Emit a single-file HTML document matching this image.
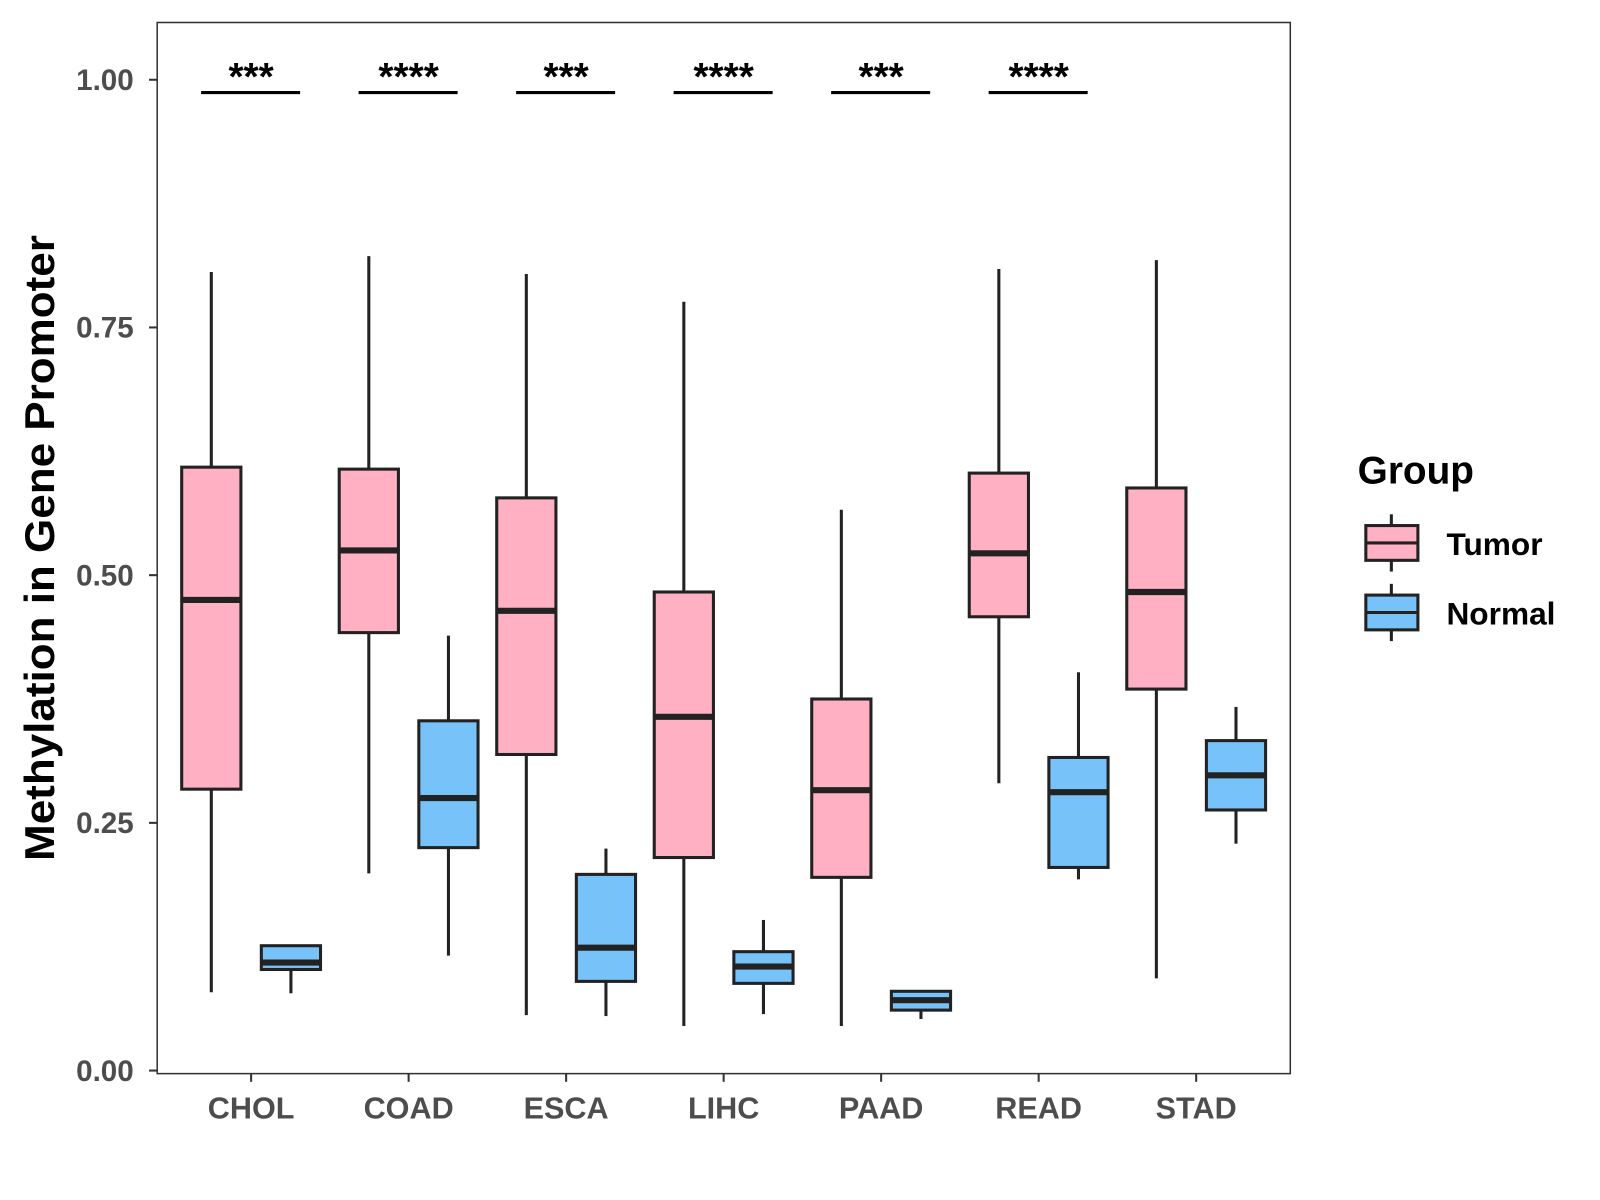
<!DOCTYPE html>
<html><head><meta charset="utf-8"><style>body{margin:0;background:#fff}svg{display:block}text{font-family:"Liberation Sans",Arial,sans-serif;font-weight:bold}</style></head>
<body>
<svg id="chart" width="1600" height="1200" viewBox="0 0 1600 1200" xmlns="http://www.w3.org/2000/svg">
<g transform="scale(1.0208,1.0225)">
<rect x="154" y="22" width="1110" height="1028" fill="#fff" stroke="#333" stroke-width="1.5"/>
<g id="yaxis"></g>
<g id="xaxis"></g>
<g id="boxes"></g>
<g id="sig"></g>
<text transform="translate(53,536) rotate(-90)" text-anchor="middle" font-size="41" fill="#000" textLength="612" lengthAdjust="spacingAndGlyphs">Methylation in Gene Promoter</text>
<g>
<text x="1330" y="473" font-size="38" fill="#000">Group</text>
<g>
<line x1="1363" y1="503" x2="1363" y2="559" stroke="#222" stroke-width="3"/>
<rect x="1338" y="514" width="51" height="34" fill="#FFB0C2" stroke="#222" stroke-width="3"/>
<line x1="1338" y1="531" x2="1389" y2="531" stroke="#222" stroke-width="3"/>
<text x="1417" y="543" font-size="31" fill="#000">Tumor</text></g>
<g>
<line x1="1363" y1="571" x2="1363" y2="627" stroke="#222" stroke-width="3"/>
<rect x="1338" y="582" width="51" height="34" fill="#77C2F8" stroke="#222" stroke-width="3"/>
<line x1="1338" y1="599" x2="1389" y2="599" stroke="#222" stroke-width="3"/>
<text x="1417" y="611" font-size="31" fill="#000">Normal</text></g>
</g>
</g>
</svg>
<script>
const categories=["CHOL","COAD","ESCA","LIHC","PAAD","READ","STAD"];
// [low, q1, median, q3, high]
const tumorStats=[[0.079,0.284,0.475,0.609,0.806],[0.199,0.442,0.525,0.607,0.822],[0.056,0.319,0.464,0.578,0.804],[0.045,0.215,0.357,0.483,0.776],[0.045,0.195,0.283,0.375,0.566],[0.290,0.458,0.522,0.603,0.809],[0.093,0.385,0.483,0.588,0.818]];
const normalStats=[[0.078,0.102,0.109,0.126,0.126],[0.116,0.225,0.275,0.353,0.439],[0.055,0.090,0.124,0.198,0.224],[0.057,0.088,0.105,0.120,0.152],[0.052,0.061,0.071,0.080,0.080],[0.193,0.205,0.281,0.316,0.402],[0.229,0.263,0.298,0.333,0.367]];
const sigLabels=["***","****","***","****","***","****",""];
const yTicks=[0,0.25,0.5,0.75,1.0];
const yTickLabels=["0.00","0.25","0.50","0.75","1.00"];
const NS="http://www.w3.org/2000/svg";
const y=v=>1047-v*969;
const x=i=>246+i*154.3;
function mk(tag,attrs,parent){const e=document.createElementNS(NS,tag);for(const k in attrs)e.setAttribute(k,attrs[k]);parent.appendChild(e);return e;}
const ya=document.getElementById('yaxis'),xa=document.getElementById('xaxis'),bx=document.getElementById('boxes'),sg=document.getElementById('sig');
yTicks.forEach((t,i)=>{
 const l=mk('line',{x1:146,x2:154,y1:y(t),y2:y(t),stroke:'#333','stroke-width':2},ya);
 
 
 const tx=mk('text',{x:131,y:y(t)+10,'text-anchor':'end','font-size':29,fill:'#4d4d4d'},ya);
 tx.textContent=yTickLabels[i];
 
 
});
categories.forEach((c,i)=>{
 const l=mk('line',{x1:x(i),x2:x(i),y1:1050,y2:1058,stroke:'#333','stroke-width':2},xa);
 
 
 const tx=mk('text',{x:x(i),y:1094,'text-anchor':'middle','font-size':30,fill:'#4d4d4d'},xa);
 tx.textContent=c;
 
 
});
function box(cx,s,fill,name){
 const g=mk('g',{},bx);
 
 
 mk('line',{x1:cx,x2:cx,y1:y(s[4]),y2:y(s[3]),stroke:'#222','stroke-width':3},g);
 mk('line',{x1:cx,x2:cx,y1:y(s[1]),y2:y(s[0]),stroke:'#222','stroke-width':3},g);
 mk('rect',{x:cx-29,y:y(s[3]),width:58,height:y(s[1])-y(s[3]),fill:fill,stroke:'#222','stroke-width':3},g);
 mk('line',{x1:cx-29,x2:cx+29,y1:y(s[2]),y2:y(s[2]),stroke:'#222','stroke-width':6},g);
}
categories.forEach((c,i)=>{
 box(x(i)-39,tumorStats[i],'#FFB0C2','box-tumor-'+c.toLowerCase());
 box(x(i)+39,normalStats[i],'#77C2F8','box-normal-'+c.toLowerCase());
 if(sigLabels[i]){
  const l=mk('line',{x1:x(i)-49,x2:x(i)+48,y1:90.5,y2:90.5,stroke:'#000','stroke-width':3},sg);
  
  
  const t=mk('text',{x:x(i),y:88,'text-anchor':'middle','font-size':38,fill:'#000'},sg);
  t.textContent=sigLabels[i];
  
  
 }
});
</script>
</body></html>
